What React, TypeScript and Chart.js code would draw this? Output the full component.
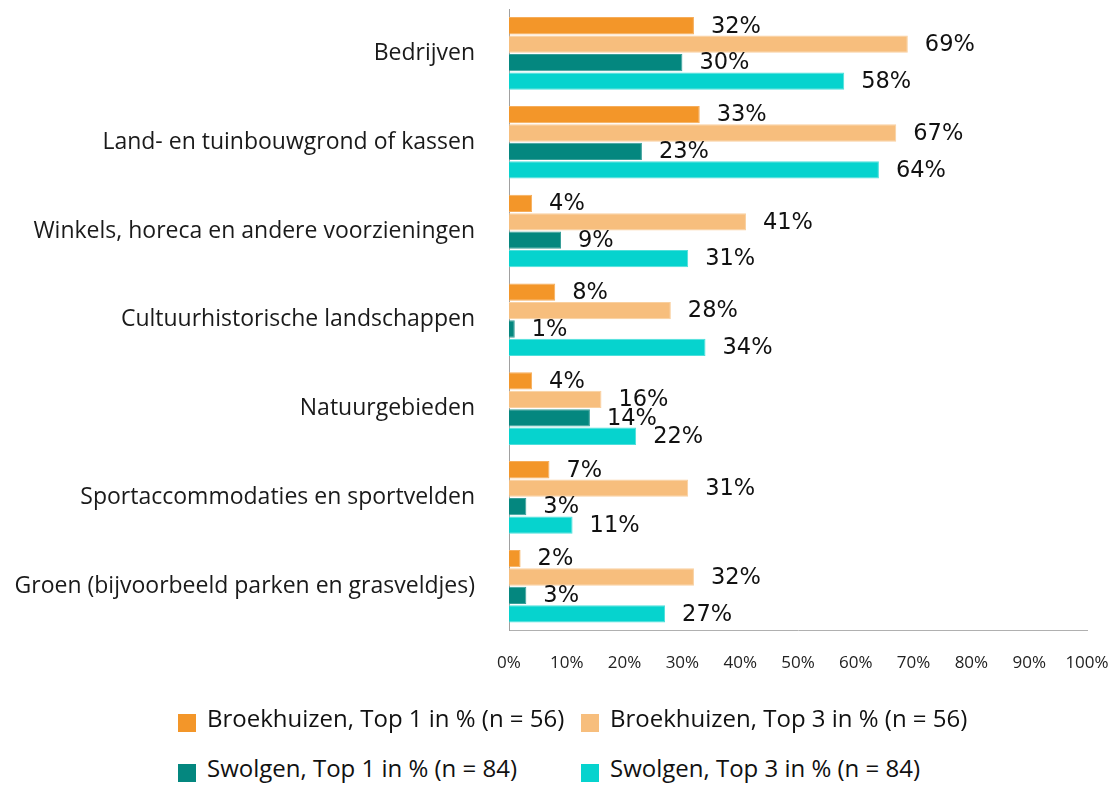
import React, { useEffect, useRef } from "react";
import { Chart, registerables } from "chart.js";

Chart.register(...registerables);

const categories = [
  "Bedrijven",
  "Land- en tuinbouwgrond of kassen",
  "Winkels, horeca en andere voorzieningen",
  "Cultuurhistorische landschappen",
  "Natuurgebieden",
  "Sportaccommodaties en sportvelden",
  "Groen (bijvoorbeeld parken en grasveldjes)",
];

const seriesNames = [
  "Broekhuizen, Top 1 in % (n = 56)",
  "Broekhuizen, Top 3 in % (n = 56)",
  "Swolgen, Top 1 in % (n = 84)",
  "Swolgen, Top 3 in % (n = 84)",
];

const broekhuizenTop1 = [32, 33, 4, 8, 4, 7, 2];
const broekhuizenTop3 = [69, 67, 41, 28, 16, 31, 32];
const swolgenTop1 = [30, 23, 9, 1, 14, 3, 3];
const swolgenTop3 = [58, 64, 31, 34, 22, 11, 27];

const colors = ["#F39629", "#F7BE7D", "#04877F", "#06D3CE"];
const borderColors = ["#F6AD5A", "#F9D0A0", "#3A9F99", "#4EDFDB"];

const FONT = "'Open Sans', sans-serif";
const LABEL_FONT = "'DejaVu Sans', sans-serif";

const dataLabelPlugin = {
  id: "dataLabels",
  afterDatasetsDraw(chart: any) {
    const ctx = chart.ctx;
    ctx.save();
    ctx.font = `22.5px ${LABEL_FONT}`;
    ctx.fillStyle = "#111";
    ctx.textAlign = "left";
    ctx.textBaseline = "middle";
    chart.data.datasets.forEach((ds: any, i: number) => {
      const meta = chart.getDatasetMeta(i);
      meta.data.forEach((bar: any, j: number) => {
        ctx.fillText(ds.data[j] + "%", bar.x + 17, bar.y + 1);
      });
    });
    ctx.restore();
  },
};

export default function App() {
  const ref = useRef<HTMLCanvasElement>(null);
  useEffect(() => {
    if (!ref.current) return;
    const seriesData = [broekhuizenTop1, broekhuizenTop3, swolgenTop1, swolgenTop3];
    const chart = new Chart(ref.current, {
      type: "bar",
      data: {
        labels: categories,
        datasets: seriesData.map((d, i) => ({
          label: seriesNames[i],
          data: d,
          backgroundColor: colors[i],
          borderColor: borderColors[i],
          borderWidth: 1,
          categoryPercentage: 0.83,
          barPercentage: 0.94,
        })),
      },
      options: {
        indexAxis: "y",
        animation: false,
        responsive: false,
        maintainAspectRatio: false,
        layout: { padding: { top: 1, right: 29, bottom: 16, left: 0 } },
        plugins: {
          legend: { display: false },
          tooltip: { enabled: false },
        },
        scales: {
          x: {
            min: 0,
            max: 100,
            ticks: {
              stepSize: 10,
              callback: (v: any) => v + "%",
              font: { family: FONT, size: 17 },
              color: "#222",
              padding: 22,
              maxRotation: 0,
              autoSkip: false,
            },
            grid: { display: false, drawTicks: false },
            border: { display: true, color: "#B0B0B0", width: 1 },
            afterFit: (scale: any) => {
              scale.paddingLeft = 0;
              scale.paddingRight = 0;
            },
          },
          y: {
            ticks: {
              font: { family: FONT, size: 23 },
              color: "#1a1a1a",
              padding: 34,
              autoSkip: false,
            },
            grid: { display: false, drawTicks: false },
            border: { display: true, color: "#A0A0A0", width: 1 },
            afterFit: (scale: any) => {
              scale.width = 501;
              scale.paddingTop = 0;
              scale.paddingBottom = 0;
            },
          },
        },
      },
      plugins: [dataLabelPlugin],
    });
    return () => chart.destroy();
  }, []);

  const legendItem = (i: number) => (
    <div style={{ display: "flex", alignItems: "flex-start", width: 403, whiteSpace: "nowrap" }}>
      <span
        style={{
          display: "inline-block",
          width: 18,
          height: 18,
          background: colors[i],
          marginRight: 11,
          marginTop: 8,
          flex: "none",
        }}
      />
      <span style={{ fontFamily: FONT, fontSize: 24, lineHeight: "24px", color: "#111" }}>
        {seriesNames[i]}
      </span>
    </div>
  );

  return (
    <div
      style={{
        position: "relative",
        width: 1108,
        height: 775,
        fontFamily: FONT,
      }}
    >
      <canvas
        ref={ref}
        width={1108}
        height={703}
        style={{ display: "block", position: "absolute", left: 0, top: 0 }}
      />
      <div style={{ position: "absolute", left: 170, top: 698, display: "flex" }}>
        {legendItem(0)}
        {legendItem(1)}
      </div>
      <div style={{ position: "absolute", left: 170, top: 748, display: "flex" }}>
        {legendItem(2)}
        {legendItem(3)}
      </div>
    </div>
  );
}
